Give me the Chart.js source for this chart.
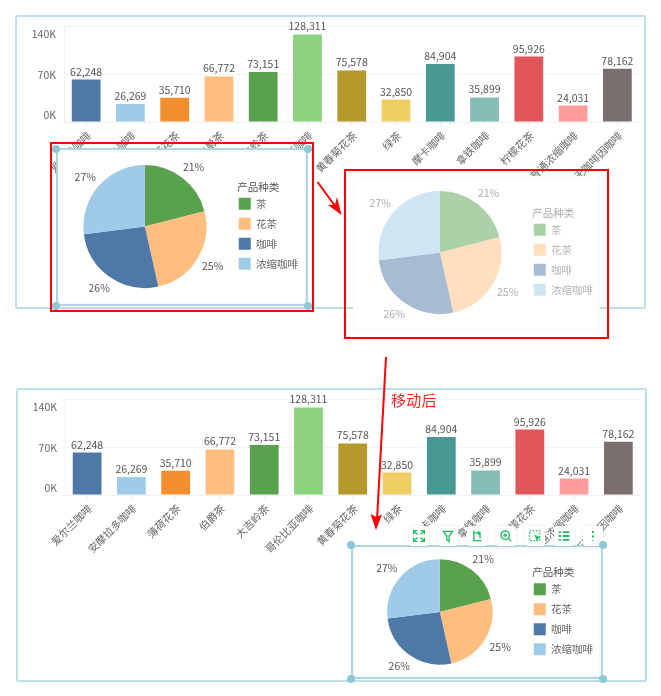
<!DOCTYPE html>
<html>
<head>
<meta charset="utf-8">
<script src="https://cdn.jsdelivr.net/npm/chart.js@4"></script>
<style>
  html, body { margin: 0; padding: 0; background: #fff; }
  body { position: relative; width: 661px; height: 696px; overflow: hidden; font-family: "Noto Sans CJK SC", sans-serif; }
  canvas, .panel, .card, .tool, .note, #overlay { position: absolute; }
  .panel { box-sizing: border-box; border: 2px solid #bfe0e8; border-radius: 2px; background: #fff; }
  .card { background: #fff; box-sizing: border-box; }
  .card.plain { border: 1px solid #f8f9f9; }
  .card.frame { border: 2px solid #aed6e0; box-shadow: inset 0 0 0 2px #f6f9fa; }
  .tool { width: 20px; height: 20px; background: #fff; border-radius: 3px; box-shadow: 0 0 3px rgba(0,0,0,.12); }
  .tool svg { display: block; }
  .note { color: #f22; font-size: 15px; line-height: 20px; left: 391px; top: 390px; letter-spacing: 0.3px; }
  #overlay { left: 0; top: 0; }
</style>
</head>
<body>
  <div class="panel" style="left:15px;top:15px;width:631px;height:294px"></div>
  <canvas id="barTop" width="631" height="294" style="left:15px;top:15px"></canvas>

  <div class="card frame" style="left:56px;top:148px;width:252px;height:158px"></div>
  <canvas id="pieTop" width="252" height="157" style="left:56px;top:148px"></canvas>

  <div class="card plain" style="left:353px;top:176px;width:247px;height:153px"></div>
  <canvas id="pieGhost" width="252" height="157" style="left:351px;top:174px;opacity:.5"></canvas>

  <div class="panel" style="left:16px;top:388px;width:631px;height:294px"></div>
  <canvas id="barBottom" width="631" height="294" style="left:16px;top:388px"></canvas>

  <div class="card frame" style="left:351px;top:545px;width:252px;height:134px"></div>
  <canvas id="pieBottom" width="252" height="134" style="left:351px;top:545px"></canvas>

  <div class="note">移动后</div>
  <div id="tools"></div>

  <svg id="overlay" width="661" height="696">
    <g fill="none" stroke="#f00" stroke-width="2">
      <rect x="51" y="143" width="262" height="168"/>
      <rect x="345" y="170" width="263" height="168"/>
      <line x1="317.5" y1="182" x2="338" y2="210"/>
      <line x1="386" y1="357" x2="377" y2="520"/>
    </g>
    <path d="M341.5 215 L328 205 L335 204.5 L337 197 Z" fill="#f00"/>
    <path d="M376 530 L370.5 514 L376.5 517 L382 514.5 Z" fill="#f00"/>
    <g fill="#8cc8d8">
      <circle cx="56" cy="149" r="4"/><circle cx="308" cy="149" r="4"/>
      <circle cx="56" cy="306" r="4"/><circle cx="308" cy="306" r="4"/>
      <circle cx="351" cy="545" r="4"/><circle cx="603" cy="545" r="4"/>
      <circle cx="351" cy="679" r="4"/><circle cx="603" cy="679" r="4"/>
    </g>
  </svg>

<script>
const categories = ['爱尔兰咖啡', '安摩拉多咖啡', '薄荷花茶', '伯爵茶', '大吉岭茶', '哥伦比亚咖啡', '黄春菊花茶', '绿茶', '摩卡咖啡', '拿铁咖啡', '柠檬花茶', '普通浓缩咖啡', '无咖啡因咖啡'];
const sales = [62248, 26269, 35710, 66772, 73151, 128311, 75578, 32850, 84904, 35899, 95926, 24031, 78162];
const yTicks = [0, 70000, 140000];
const pieTypes = ['茶', '花茶', '咖啡', '浓缩咖啡'];
const pieShares = [21, 25.5, 26.5, 27];
const pieLabels = ['21%', '25%', '26%', '27%'];
const legendTitle = '产品种类';

const barColors = ['#4E79A7', '#A0CBE8', '#F28E2B', '#FFBE7D', '#59A14F', '#8CD17D', '#B6992D', '#F1CE63', '#499894', '#86BCB6', '#E15759', '#FF9D9A', '#79706E'];
const pieColors = ['#59A14F', '#FFBE7D', '#4E79A7', '#A0CBE8'];
const FONT = '"Noto Sans CJK SC", sans-serif';

Chart.defaults.animation = false;
Chart.defaults.font.family = FONT;

// value labels + y tick labels (the end ticks sit inside the axis range in the original)
const barText = {
    id: 'barText',
    afterDatasetsDraw(chart) {
        const ctx = chart.ctx;
        const y = chart.scales.y;
        ctx.save();
        ctx.font = '10.5px ' + FONT;
        ctx.textBaseline = 'middle';
        ctx.textAlign = 'center';
        ctx.fillStyle = '#555';
        chart.getDatasetMeta(0).data.forEach((bar, i) => {
            ctx.fillText(sales[i].toLocaleString('en-US'), bar.x, bar.y - 8);
        });
        ctx.textAlign = 'right';
        ctx.fillStyle = '#666';
        yTicks.forEach(v => {
            const shift = v === 0 ? -7 : v === 140000 ? 8 : 1;
            ctx.fillText((v / 1000) + 'K', y.left + 41, y.getPixelForValue(v) + shift);
        });
        ctx.restore();
    }
};

const pieText = {
    id: 'pieText',
    afterDatasetsDraw(chart) {
        const ctx = chart.ctx;
        ctx.save();
        ctx.font = '10.5px ' + FONT;
        ctx.textAlign = 'center';
        ctx.textBaseline = 'middle';
        ctx.fillStyle = '#555';
        chart.getDatasetMeta(0).data.forEach((arc, i) => {
            const mid = (arc.startAngle + arc.endAngle) / 2;
            const r = arc.outerRadius + 18;
            ctx.fillText(pieLabels[i], arc.x + Math.cos(mid) * r, arc.y + Math.sin(mid) * r * 0.94);
        });
        // legend title sits just left of the swatches, which the legend's own title can't do
        const first = chart.legend.legendHitBoxes[0];
        ctx.textAlign = 'left';
        ctx.fillText(legendTitle, first.left - 1.6, first.top - 11);
        ctx.restore();
    }
};

function makeBar(id) {
    new Chart(document.getElementById(id), {
        type: 'bar',
        data: {
            labels: categories,
            datasets: [{
                data: sales,
                backgroundColor: barColors,
                borderColor: barColors,
                borderWidth: 0,
                categoryPercentage: 1,
                barPercentage: 0.65
            }]
        },
        options: {
            responsive: false,
            layout: { padding: { top: 11.5, right: 6.5 } },
            plugins: { legend: { display: false }, tooltip: { enabled: false } },
            scales: {
                x: {
                    afterFit(s) { s.height = 187; },
                    grid: { offset: false, drawOnChartArea: false, color: '#eeeeee', tickLength: 4 },
                    border: { color: '#f0f0f0' },
                    ticks: { autoSkip: false, minRotation: 45, maxRotation: 45, color: '#666', padding: 3, labelOffset: 3, font: { size: 10.5 } }
                },
                y: {
                    min: 0,
                    max: 140000,
                    afterFit(s) { s.width = 49; },
                    afterBuildTicks(s) { s.ticks = yTicks.map(v => ({ value: v })); },
                    grid: { color: '#f2f2f2', tickLength: 3 },
                    border: { color: '#f2f2f2' },
                    ticks: { display: false }
                }
            }
        },
        plugins: [barText]
    });
}

function makePie(id, radius) {
    new Chart(document.getElementById(id), {
        type: 'pie',
        data: {
            labels: pieTypes,
            datasets: [{
                data: pieShares,
                backgroundColor: pieColors,
                borderWidth: 0,
                radius: radius
            }]
        },
        options: {
            responsive: false,
            layout: { padding: { left: 3 } },
            plugins: {
                tooltip: { enabled: false },
                legend: {
                    position: 'right',
                    // blank title only reserves the room, the text is drawn in pieText
                    title: { display: true, position: 'start', text: ' ', font: { size: 10.5 }, padding: { top: 0, bottom: 2 } },
                    labels: { boxWidth: 12, boxHeight: 12, padding: 8, color: '#666', font: { size: 10.5 } }
                }
            }
        },
        plugins: [pieText]
    });
}

makeBar('barTop');
makeBar('barBottom');
makePie('pieTop', 61.5);
makePie('pieGhost', 61.5);
makePie('pieBottom', 52.7);

// floating toolbar above the selected pie
const toolX = [409, 438, 467, 496, 525, 554, 583];
const toolIcons = [
    '<path d="M3 8V3h5M3 3l5 5M17 8V3h-5M17 3l-5 5M3 12v5h5M3 17l5-5M17 12v5h-5M17 17l-5-5"/>',
    '<path d="M4 4h12l-4.5 6v7l-3-2v-5z"/>',
    '<path d="M6 3v13h10M6 6h8v7M11 4l3 2-3 2"/>',
    '<circle cx="9" cy="9" r="5.5"/><path d="M6.5 9h5M9 6.5v5M13 13l4 4"/>',
    '<path stroke-dasharray="2 2" d="M3 3h13v13H3z"/><path fill="#22bf63" stroke="none" d="M9 8l8 4-3 1.5L12.5 17z"/>',
    '<path stroke-width="2.4" d="M3 5h3M8 5h9M3 10h3M8 10h9M3 15h3M8 15h9"/>',
    '<path stroke-width="2.6" stroke-dasharray="2.6 3.4" d="M10 3.5v13"/>'
];
const toolBox = document.getElementById('tools');
toolIcons.forEach((icon, i) => {
    const d = document.createElement('div');
    d.className = 'tool';
    d.style.left = toolX[i] + 'px';
    d.style.top = '526px';
    d.innerHTML = '<svg width="20" height="20" viewBox="-3 -3 26 26" fill="none" stroke="#22bf63" stroke-width="1.8">' + icon + '</svg>';
    toolBox.appendChild(d);
});
</script>
</body>
</html>
